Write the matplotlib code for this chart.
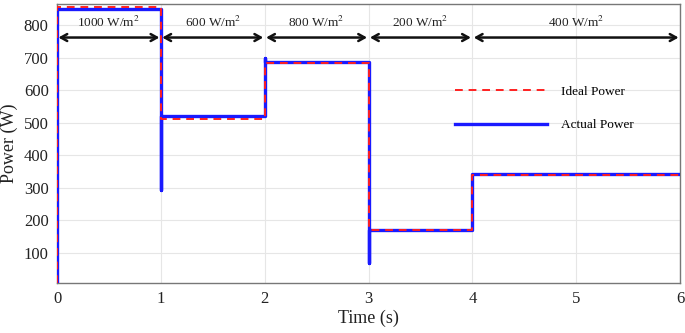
import matplotlib
matplotlib.use("Agg")
import matplotlib.pyplot as plt

plt.rcParams['font.family'] = ['Liberation Serif', 'DejaVu Serif']
plt.rcParams['mathtext.fontset'] = 'stix'

# Ideal power steps (s, W)
t_ideal = [0, 0, 1, 1, 2, 2, 3, 3, 4, 4, 6]
p_ideal = [8, 855, 855, 512, 512, 685, 685, 170, 170, 340, 340]

# Actual power with transients at each step
t_actual = [0, 0, 1, 1, 1, 2, 2, 2, 3, 3, 3, 4, 4, 6]
p_actual = [8, 850, 850, 295, 520, 520, 700, 688, 688, 70, 170, 170, 342, 342]

# Irradiance intervals
spans = [(0, 1), (1, 2), (2, 3), (3, 4), (4, 6)]
irr_labels = ['1000 W/m$^2$', '600 W/m$^2$', '800 W/m$^2$', '200 W/m$^2$', '400 W/m$^2$']

fig = plt.figure(figsize=(6.85, 3.33), dpi=100)
ax = fig.add_axes([57/685, 50/333, 623/685, 279/333])

ax.plot(t_actual, p_actual, color='#1a1aff', lw=2.4, label='Actual Power', zorder=3)
ax.plot(t_ideal, p_ideal, color='#ff2020', lw=1.4, ls=(0, (4, 3)), label='Ideal Power', zorder=4)

for (a, b), lab in zip(spans, irr_labels):
    ax.annotate('', xy=(a, 762), xytext=(b, 762),
                arrowprops=dict(arrowstyle='<->,head_length=0.45,head_width=0.25',
                                color='#111111', lw=1.8, shrinkA=1, shrinkB=1))
    ax.text((a + b) / 2, 785, lab, ha='center', va='bottom', fontsize=9.5, color='#222222')

ax.set_xlim(0, 6)
ax.set_ylim(8, 865)
ax.set_xticks([0, 1, 2, 3, 4, 5, 6])
ax.set_yticks([100, 200, 300, 400, 500, 600, 700, 800])
ax.grid(True, color='#e6e6e6', lw=0.8)
ax.set_axisbelow(True)
for s in ax.spines.values():
    s.set_color('#777777')
    s.set_linewidth(1.0)
ax.tick_params(length=0, labelsize=12, pad=6, colors='#222222')
ax.set_xlabel('Time (s)', fontsize=13, labelpad=2, color='#222222')
ax.set_ylabel('Power (W)', fontsize=13, labelpad=4, color='#222222')

h, l = ax.get_legend_handles_labels()
ax.legend(h[::-1], l[::-1], loc='upper left', bbox_to_anchor=(0.62, 0.75),
          frameon=False, fontsize=9.5, handlelength=7, labelspacing=1.6,
          handletextpad=1.0)

fig.savefig('out.png', dpi=100)
